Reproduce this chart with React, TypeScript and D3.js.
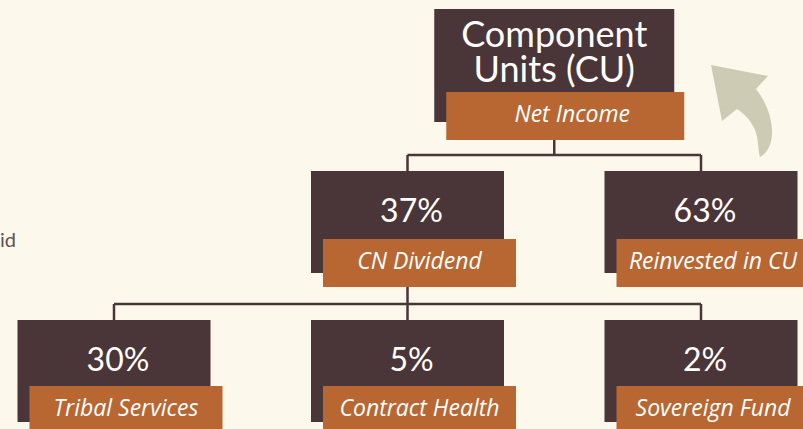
import React, { useEffect, useRef } from "react";
import * as d3 from "d3";

// tree of the distribution, one entry per node
const nodeTitles = ["Component\nUnits (CU)", "37%", "63%", "30%", "5%", "2%"];
const nodeLabels = [
  "Net Income",
  "CN Dividend",
  "Reinvested in CU",
  "Tribal Services",
  "Contract Health",
  "Sovereign Fund",
];
const nodeLevels = [0, 1, 1, 2, 2, 2];
const nodeColumns = [1.5, 1, 2, 0, 1, 2];
const nodeParents = [-1, 0, 0, 1, 1, 1];
const sideText = "id";

const BG = "#fdf8ec";
const DARK = "#4a3538";
const ORANGE = "#b86732";
const ARROW = "#cecbb5";
const FONT = "Lato, 'Open Sans', sans-serif";
const LABEL_FONT = "'Open Sans', Lato, sans-serif";

export default function App({ width = 803, height = 429 }) {
  const svgRef = useRef(null);

  useEffect(() => {
    document.body.style.margin = "0";
    document.body.style.background = BG;

    const svg = d3.select(svgRef.current);
    svg.selectAll("*").remove();

    const x = d3.scaleLinear().domain([0, 2]).range([114, 701]);
    const top = d3.scaleOrdinal().domain([0, 1, 2]).range([9, 171, 320]);
    const boxW = d3.scaleOrdinal().domain([0, 1, 2]).range([240, 193, 193]);
    const boxH = d3.scaleOrdinal().domain([0, 1, 2]).range([113, 102, 102]);
    const tagOffset = d3.scaleOrdinal().domain([0, 1, 2]).range([83, 68, 66]);
    const tagH = 48;
    const tagShift = 12;

    const nodes = nodeTitles.map((t, i) => {
      const lvl = nodeLevels[i];
      const cx = x(nodeColumns[i]);
      const w = boxW(lvl);
      const y0 = top(lvl);
      return {
        i,
        title: t,
        label: nodeLabels[i],
        lvl,
        cx,
        w,
        y0,
        h: boxH(lvl),
        tagY: y0 + tagOffset(lvl),
        parent: nodeParents[i],
      };
    });

    svg.append("rect").attr("width", width).attr("height", height).attr("fill", BG);

    // partial text at the left edge
    svg
      .append("text")
      .attr("x", 0)
      .attr("y", 247)
      .attr("font-family", FONT)
      .attr("font-size", 20)
      .attr("fill", "#5e5254")
      .text(sideText);

    // connectors
    const lines = svg.append("g").attr("stroke", DARK).attr("stroke-width", 2.5).attr("fill", "none");
    nodes.forEach((p) => {
      const kids = nodes.filter((n) => n.parent === p.i);
      if (!kids.length) return;
      const midY = kids[0].y0 - 16;
      const startY = p.tagY + tagH;
      const path = d3.path();
      path.moveTo(p.cx, startY);
      path.lineTo(p.cx, midY);
      const xs = kids.map((k) => k.cx);
      path.moveTo(d3.min(xs), midY);
      path.lineTo(d3.max(xs), midY);
      kids.forEach((k) => {
        path.moveTo(k.cx, midY);
        path.lineTo(k.cx, k.y0);
      });
      lines.append("path").attr("d", path.toString());
    });

    // boxes
    const g = svg.selectAll("g.node").data(nodes).enter().append("g").attr("class", "node");

    g.append("rect")
      .attr("x", (d) => d.cx - d.w / 2)
      .attr("y", (d) => d.y0)
      .attr("width", (d) => d.w)
      .attr("height", (d) => d.h)
      .attr("fill", DARK);

    g.append("rect")
      .attr("x", (d) => d.cx - d.w / 2 + tagShift)
      .attr("y", (d) => d.tagY)
      .attr("width", (d) => (d.lvl === 0 ? d.w - 2 : d.w))
      .attr("height", tagH)
      .attr("fill", ORANGE);

    g.each(function (d) {
      const sel = d3.select(this);
      const parts = d.title.split("\n");
      const big = d.lvl === 0 ? 36 : 32;
      const lineH = 35;
      parts.forEach((p, k) => {
        sel
          .append("text")
          .attr("x", d.cx + (d.lvl === 0 ? 0 : 4))
          .attr("y", d.lvl === 0 ? d.y0 + 38 + k * lineH : d.y0 + 51)
          .attr("text-anchor", "middle")
          .attr("font-family", FONT)
          .attr("font-size", big)
          .attr("fill", "#ffffff")
          .text(p);
      });
    });

    g.append("text")
      .attr("x", (d) => d.cx + tagShift + (d.lvl === 0 ? 6 : 0))
      .attr("y", (d) => d.tagY + 30)
      .attr("text-anchor", "middle")
      .attr("font-family", LABEL_FONT)
      .attr("font-style", "italic")
      .attr("font-size", 23)
      .attr("fill", "#ffffff")
      .text((d) => d.label);

    // recycle arrow
    svg
      .append("path")
      .attr(
        "d",
        "M711,65 L768,76 L756,89 C765,100 773,118 772,135 C771,147 766,154 760,157 C758,152 759,140 755,130 C751,121 745,114 737,109 L722,121 Z"
      )
      .attr("fill", ARROW);
  }, [width, height]);

  return (
    <svg
      ref={svgRef}
      width={width}
      height={height}
      style={{ position: "absolute", left: 0, top: 0, display: "block" }}
    ></svg>
  );
}
